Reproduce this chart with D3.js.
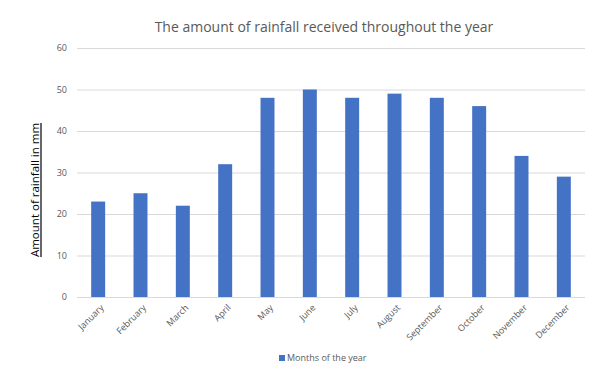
<!DOCTYPE html>
<html>
<head>
<meta charset="utf-8">
<script src="https://cdn.jsdelivr.net/npm/d3@7"></script>
<style>
  body { margin: 0; background: #fff; }
  text { font-family: "Open Sans", "Liberation Sans", sans-serif; }
</style>
</head>
<body>
<script>
const months = ['January', 'February', 'March', 'April', 'May', 'June', 'July',
    'August', 'September', 'October', 'November', 'December']
const rainfall = [23, 25, 22, 32, 48, 50, 48, 49, 48, 46, 34, 29]
const yTicks = [0, 10, 20, 30, 40, 50, 60]

const W = 601, H = 390
const m = { top: 48, right: 16, bottom: 93, left: 77 }

const svg = d3.select('body').append('svg')
    .attr('width', W)
    .attr('height', H)

const x = d3.scaleBand()
    .domain(months)
    .range([m.left, W - m.right])
    .paddingInner(0.67)
    .paddingOuter(0.335)

const y = d3.scaleLinear()
    .domain([0, 60])
    .range([H - m.bottom, m.top])

// gridlines
svg.append('g')
    .selectAll('line')
    .data(yTicks)
    .enter().append('line')
    .attr('x1', m.left).attr('x2', W - m.right)
    .attr('y1', d => y(d) + 0.5).attr('y2', d => y(d) + 0.5)
    .attr('stroke', '#d9d9d9')
    .attr('stroke-width', 1)

// y tick labels
svg.append('g')
    .selectAll('text')
    .data(yTicks)
    .enter().append('text')
    .attr('x', 67)
    .attr('y', d => y(d))
    .attr('dy', '0.35em')
    .attr('text-anchor', 'end')
    .attr('font-size', 9)
    .attr('fill', '#595959')
    .text(d => d)

// bars
svg.append('g')
    .selectAll('rect')
    .data(rainfall)
    .enter().append('rect')
    .attr('x', (d, i) => x(months[i]))
    .attr('width', x.bandwidth())
    .attr('y', d => y(d))
    .attr('height', d => y(0) - y(d))
    .attr('fill', '#4472c4')

// x labels, rotated
svg.append('g')
    .selectAll('text')
    .data(months)
    .enter().append('text')
    .attr('transform', d => 'translate(' + (x(d) + x.bandwidth() / 2 + 4) + ',' + (y(0) + 9) + ') rotate(-45)')
    .attr('text-anchor', 'end')
    .attr('dy', '0.35em')
    .attr('font-size', 9)
    .attr('fill', '#595959')
    .text(d => d)

// title
svg.append('text')
    .attr('x', 324)
    .attr('y', 32)
    .attr('text-anchor', 'middle')
    .attr('font-size', 14)
    .attr('fill', '#595959')
    .text('The amount of rainfall received throughout the year')

// y axis title, underline drawn by hand
const yt = svg.append('g').attr('transform', 'translate(39,190) rotate(-90)')
const ytText = yt.append('text')
    .attr('text-anchor', 'middle')
    .attr('font-size', 11.5)
    .attr('fill', '#000')
    .text('Amount of rainfall in mm')
const tw = ytText.node().getComputedTextLength()
yt.append('line')
    .attr('x1', -tw / 2).attr('x2', tw / 2)
    .attr('y1', 2).attr('y2', 2)
    .attr('stroke', '#000')
    .attr('stroke-width', 1.2)

// legend
const legend = svg.append('g').attr('transform', 'translate(279,355)')
legend.append('rect')
    .attr('width', 6).attr('height', 6)
    .attr('fill', '#4472c4')
legend.append('text')
    .attr('x', 8)
    .attr('y', 3)
    .attr('dy', '0.35em')
    .attr('font-size', 9)
    .attr('fill', '#595959')
    .text('Months of the year')
</script>
</body>
</html>
